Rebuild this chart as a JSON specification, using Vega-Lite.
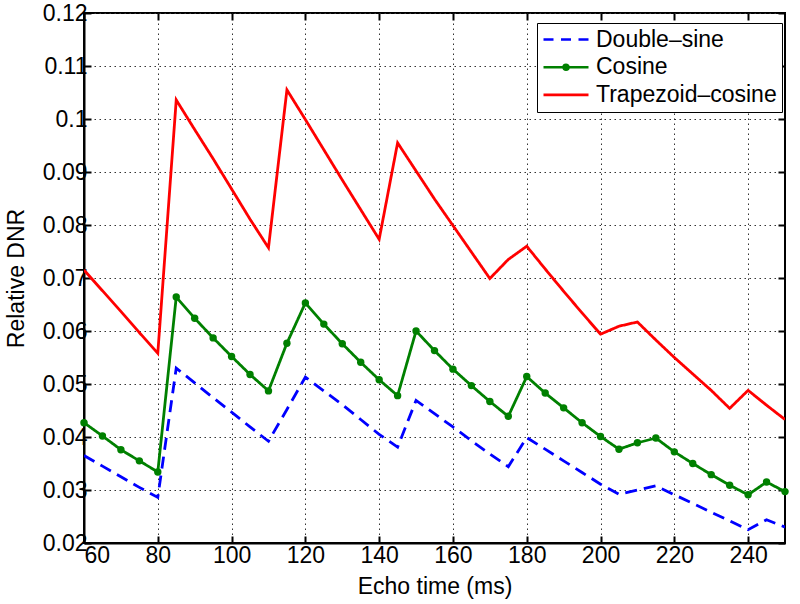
{
  "$schema": "https://vega.github.io/schema/vega-lite/v6.json",
  "width": 701,
  "height": 530,
  "autosize": {"type": "none"},
  "padding": {"left": 84, "top": 13, "right": 15, "bottom": 61},
  "background": "white",
  "config": {
    "font": "Liberation Sans",
    "view": {"stroke": "black", "strokeWidth": 2},
    "axis": {
      "labelFont": "Liberation Sans",
      "titleFont": "Liberation Sans",
      "labelFontSize": 23,
      "titleFontSize": 23,
      "titleFontWeight": "normal",
      "labelColor": "black",
      "titleColor": "black",
      "domainColor": "black",
      "domainWidth": 2,
      "tickColor": "black",
      "tickWidth": 2,
      "tickSize": -7,
      "gridColor": "#333333",
      "gridDash": [1.5, 3.5],
      "gridWidth": 1
    },
    "legend": {
      "labelFont": "Liberation Sans",
      "labelFontSize": 23,
      "labelColor": "black"
    }
  },
  "data": {
    "values": [
      {"t": 60, "series": "Double-sine", "v": 0.0365},
      {"t": 65, "series": "Double-sine", "v": 0.0345},
      {"t": 70, "series": "Double-sine", "v": 0.0325},
      {"t": 75, "series": "Double-sine", "v": 0.0305},
      {"t": 80, "series": "Double-sine", "v": 0.0286},
      {"t": 85, "series": "Double-sine", "v": 0.0530},
      {"t": 90, "series": "Double-sine", "v": 0.0502},
      {"t": 95, "series": "Double-sine", "v": 0.0474},
      {"t": 100, "series": "Double-sine", "v": 0.0447},
      {"t": 105, "series": "Double-sine", "v": 0.0419},
      {"t": 110, "series": "Double-sine", "v": 0.0392},
      {"t": 115, "series": "Double-sine", "v": 0.0452},
      {"t": 120, "series": "Double-sine", "v": 0.0513},
      {"t": 125, "series": "Double-sine", "v": 0.0487},
      {"t": 130, "series": "Double-sine", "v": 0.0461},
      {"t": 135, "series": "Double-sine", "v": 0.0433},
      {"t": 140, "series": "Double-sine", "v": 0.0405},
      {"t": 145, "series": "Double-sine", "v": 0.0381},
      {"t": 150, "series": "Double-sine", "v": 0.0469},
      {"t": 155, "series": "Double-sine", "v": 0.0444},
      {"t": 160, "series": "Double-sine", "v": 0.0419},
      {"t": 165, "series": "Double-sine", "v": 0.0393},
      {"t": 170, "series": "Double-sine", "v": 0.0368},
      {"t": 175, "series": "Double-sine", "v": 0.0344},
      {"t": 180, "series": "Double-sine", "v": 0.0399},
      {"t": 185, "series": "Double-sine", "v": 0.0377},
      {"t": 190, "series": "Double-sine", "v": 0.0355},
      {"t": 195, "series": "Double-sine", "v": 0.0333},
      {"t": 200, "series": "Double-sine", "v": 0.0311},
      {"t": 205, "series": "Double-sine", "v": 0.0292},
      {"t": 210, "series": "Double-sine", "v": 0.0300},
      {"t": 215, "series": "Double-sine", "v": 0.0308},
      {"t": 220, "series": "Double-sine", "v": 0.0291},
      {"t": 225, "series": "Double-sine", "v": 0.0275},
      {"t": 230, "series": "Double-sine", "v": 0.0258},
      {"t": 235, "series": "Double-sine", "v": 0.0242},
      {"t": 240, "series": "Double-sine", "v": 0.0225},
      {"t": 245, "series": "Double-sine", "v": 0.0244},
      {"t": 250, "series": "Double-sine", "v": 0.0230},
      {"t": 60, "series": "Cosine", "v": 0.0427},
      {"t": 65, "series": "Cosine", "v": 0.0402},
      {"t": 70, "series": "Cosine", "v": 0.0376},
      {"t": 75, "series": "Cosine", "v": 0.0355},
      {"t": 80, "series": "Cosine", "v": 0.0334},
      {"t": 85, "series": "Cosine", "v": 0.0664},
      {"t": 90, "series": "Cosine", "v": 0.0624},
      {"t": 95, "series": "Cosine", "v": 0.0587},
      {"t": 100, "series": "Cosine", "v": 0.0552},
      {"t": 105, "series": "Cosine", "v": 0.0518},
      {"t": 110, "series": "Cosine", "v": 0.0487},
      {"t": 115, "series": "Cosine", "v": 0.0577},
      {"t": 120, "series": "Cosine", "v": 0.0653},
      {"t": 125, "series": "Cosine", "v": 0.0613},
      {"t": 130, "series": "Cosine", "v": 0.0576},
      {"t": 135, "series": "Cosine", "v": 0.0541},
      {"t": 140, "series": "Cosine", "v": 0.0508},
      {"t": 145, "series": "Cosine", "v": 0.0478},
      {"t": 150, "series": "Cosine", "v": 0.0600},
      {"t": 155, "series": "Cosine", "v": 0.0563},
      {"t": 160, "series": "Cosine", "v": 0.0528},
      {"t": 165, "series": "Cosine", "v": 0.0497},
      {"t": 170, "series": "Cosine", "v": 0.0467},
      {"t": 175, "series": "Cosine", "v": 0.0439},
      {"t": 180, "series": "Cosine", "v": 0.0514},
      {"t": 185, "series": "Cosine", "v": 0.0483},
      {"t": 190, "series": "Cosine", "v": 0.0455},
      {"t": 195, "series": "Cosine", "v": 0.0427},
      {"t": 200, "series": "Cosine", "v": 0.0401},
      {"t": 205, "series": "Cosine", "v": 0.0377},
      {"t": 210, "series": "Cosine", "v": 0.0389},
      {"t": 215, "series": "Cosine", "v": 0.0398},
      {"t": 220, "series": "Cosine", "v": 0.0372},
      {"t": 225, "series": "Cosine", "v": 0.0350},
      {"t": 230, "series": "Cosine", "v": 0.0329},
      {"t": 235, "series": "Cosine", "v": 0.0309},
      {"t": 240, "series": "Cosine", "v": 0.0291},
      {"t": 245, "series": "Cosine", "v": 0.0315},
      {"t": 250, "series": "Cosine", "v": 0.0297},
      {"t": 60, "series": "Trapezoid-cosine", "v": 0.0715},
      {"t": 65, "series": "Trapezoid-cosine", "v": 0.0676},
      {"t": 70, "series": "Trapezoid-cosine", "v": 0.0637},
      {"t": 75, "series": "Trapezoid-cosine", "v": 0.0597},
      {"t": 80, "series": "Trapezoid-cosine", "v": 0.0558},
      {"t": 85, "series": "Trapezoid-cosine", "v": 0.1036},
      {"t": 90, "series": "Trapezoid-cosine", "v": 0.0980},
      {"t": 95, "series": "Trapezoid-cosine", "v": 0.0925},
      {"t": 100, "series": "Trapezoid-cosine", "v": 0.0868},
      {"t": 105, "series": "Trapezoid-cosine", "v": 0.0811},
      {"t": 110, "series": "Trapezoid-cosine", "v": 0.0757},
      {"t": 115, "series": "Trapezoid-cosine", "v": 0.1055},
      {"t": 120, "series": "Trapezoid-cosine", "v": 0.0999},
      {"t": 125, "series": "Trapezoid-cosine", "v": 0.0942},
      {"t": 130, "series": "Trapezoid-cosine", "v": 0.0885},
      {"t": 135, "series": "Trapezoid-cosine", "v": 0.0829},
      {"t": 140, "series": "Trapezoid-cosine", "v": 0.0773},
      {"t": 145, "series": "Trapezoid-cosine", "v": 0.0955},
      {"t": 150, "series": "Trapezoid-cosine", "v": 0.0902},
      {"t": 155, "series": "Trapezoid-cosine", "v": 0.0849},
      {"t": 160, "series": "Trapezoid-cosine", "v": 0.0799},
      {"t": 165, "series": "Trapezoid-cosine", "v": 0.0749},
      {"t": 170, "series": "Trapezoid-cosine", "v": 0.0699},
      {"t": 175, "series": "Trapezoid-cosine", "v": 0.0735},
      {"t": 180, "series": "Trapezoid-cosine", "v": 0.0760},
      {"t": 185, "series": "Trapezoid-cosine", "v": 0.0717},
      {"t": 190, "series": "Trapezoid-cosine", "v": 0.0675},
      {"t": 195, "series": "Trapezoid-cosine", "v": 0.0634},
      {"t": 200, "series": "Trapezoid-cosine", "v": 0.0594},
      {"t": 205, "series": "Trapezoid-cosine", "v": 0.0609},
      {"t": 210, "series": "Trapezoid-cosine", "v": 0.0617},
      {"t": 215, "series": "Trapezoid-cosine", "v": 0.0583},
      {"t": 220, "series": "Trapezoid-cosine", "v": 0.0550},
      {"t": 225, "series": "Trapezoid-cosine", "v": 0.0519},
      {"t": 230, "series": "Trapezoid-cosine", "v": 0.0488},
      {"t": 235, "series": "Trapezoid-cosine", "v": 0.0454},
      {"t": 240, "series": "Trapezoid-cosine", "v": 0.0488},
      {"t": 245, "series": "Trapezoid-cosine", "v": 0.0460},
      {"t": 250, "series": "Trapezoid-cosine", "v": 0.0433}
    ]
  },
  "resolve": {
    "axis": {"x": "independent", "y": "independent"},
    "legend": {"color": "independent", "shape": "independent", "strokeDash": "independent"}
  },
  "layer": [
    {
      "mark": {"type": "line", "strokeWidth": 2.8, "clip": true},
      "encoding": {
        "x": {
          "field": "t", "type": "quantitative",
          "scale": {"domain": [60, 250], "nice": false, "zero": false},
          "axis": {
            "title": "Echo time (ms)",
            "values": [60, 80, 100, 120, 140, 160, 180, 200, 220, 240],
            "labelPadding": 8,
            "titleY": 43,
            "titleBaseline": "middle",
            "grid": true
          }
        },
        "y": {
          "field": "v", "type": "quantitative",
          "scale": {"domain": [0.02, 0.12], "nice": false, "zero": false},
          "axis": {
            "title": "Relative DNR",
            "values": [0.02, 0.03, 0.04, 0.05, 0.06, 0.07, 0.08, 0.09, 0.1, 0.11, 0.12],
            "format": ".2~f",
            "labelPadding": 4,
            "titleX": -68,
            "titleBaseline": "middle",
            "grid": true
          }
        },
        "color": {
          "field": "series", "type": "nominal",
          "scale": {
            "domain": ["Double-sine", "Cosine", "Trapezoid-cosine"],
            "range": ["#0000ff", "#008000", "#ff0000"]
          },
          "legend": null
        },
        "strokeDash": {
          "field": "series", "type": "nominal",
          "scale": {
            "domain": ["Double-sine", "Cosine", "Trapezoid-cosine"],
            "range": [[12, 7], [1, 0], [1, 0]]
          },
          "legend": null
        }
      }
    },
    {
      "transform": [{"filter": "datum.series === 'Cosine'"}],
      "mark": {"type": "point", "filled": true, "size": 55, "color": "#008000", "opacity": 1},
      "encoding": {
        "x": {
          "field": "t", "type": "quantitative",
          "axis": {"orient": "top", "labels": false, "title": null, "grid": false, "domain": false,
                   "values": [60, 80, 100, 120, 140, 160, 180, 200, 220, 240]}
        },
        "y": {
          "field": "v", "type": "quantitative",
          "axis": {"orient": "right", "labels": false, "title": null, "grid": false, "domain": false,
                   "values": [0.02, 0.03, 0.04, 0.05, 0.06, 0.07, 0.08, 0.09, 0.1, 0.11, 0.12]}
        }
      }
    },
    {
      "mark": {"type": "point", "filled": false, "size": 400, "strokeWidth": 2.5, "opacity": 0},
      "encoding": {
        "x": {"field": "t", "type": "quantitative", "axis": null},
        "y": {"field": "v", "type": "quantitative", "axis": null},
        "color": {
          "field": "series", "type": "nominal",
          "legend": {
            "title": null,
            "orient": "none",
            "legendX": 453,
            "legendY": 10,
            "padding": 5,
            "strokeColor": "black",
            "fillColor": "white",
            "symbolSize": 400,
            "symbolStrokeWidth": 2.6,
            "symbolOpacity": 1,
            "labelOffset": 31,
            "rowPadding": 3.7,
            "labelLimit": 400,
            "labelExpr": "replace(datum.label, '-', '\u2013')"
          }
        },
        "shape": {
          "field": "series", "type": "nominal",
          "scale": {
            "domain": ["Double-sine", "Cosine", "Trapezoid-cosine"],
            "range": [
              "M-1,0H0M0.75,0H1.75M2.5,0H3.5",
              "M-1,0H3.5M1,0A0.25,0.25 0 1,0 1.5,0A0.25,0.25 0 1,0 1,0",
              "M-1,0H3.5"
            ]
          },
          "legend": {
            "title": null,
            "orient": "none",
            "legendX": 453,
            "legendY": 10,
            "padding": 5,
            "strokeColor": "black",
            "fillColor": "white",
            "symbolSize": 400,
            "symbolStrokeWidth": 2.6,
            "symbolOpacity": 1,
            "labelOffset": 31,
            "rowPadding": 3.7,
            "labelLimit": 400,
            "labelExpr": "replace(datum.label, '-', '\u2013')"
          }
        }
      }
    }
  ]
}
